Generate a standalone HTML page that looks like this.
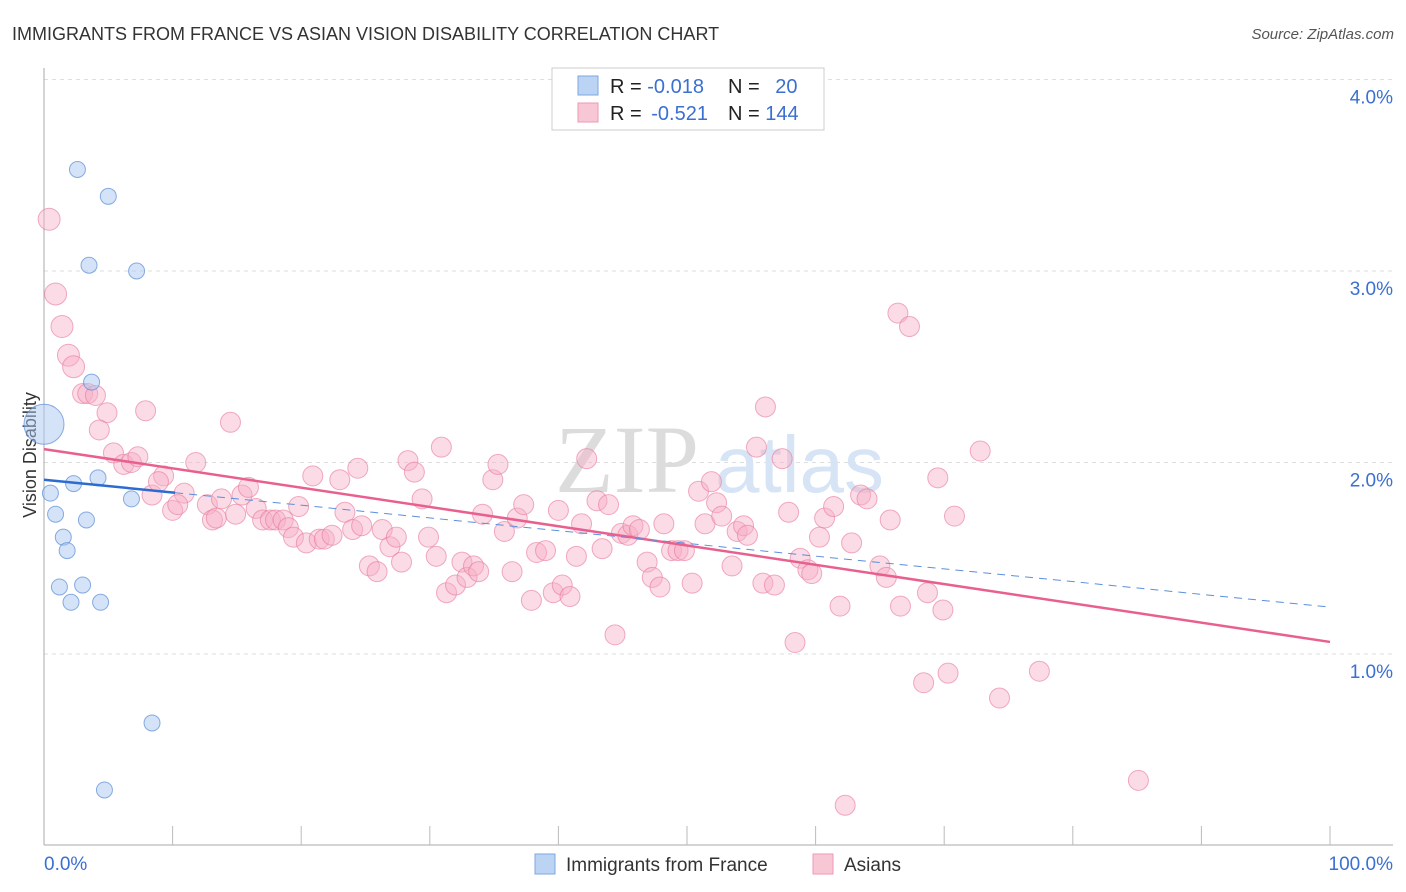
<!DOCTYPE html>
<html><head><meta charset="utf-8">
<style>
body{margin:0;background:#fff;font-family:"Liberation Sans",sans-serif;}
#wrap{position:relative;width:1406px;height:892px;overflow:hidden;}
</style></head>
<body>
<div id="wrap">
<svg id="svg" width="1406" height="892" xmlns="http://www.w3.org/2000/svg">
<text x="12" y="40" font-size="18" fill="#333">IMMIGRANTS FROM FRANCE VS ASIAN VISION DISABILITY CORRELATION CHART</text>
<text x="1394" y="39" font-size="15" fill="#555" text-anchor="end" font-style="italic">Source: ZipAtlas.com</text>
<text x="36" y="455" font-size="18" fill="#333" text-anchor="middle" transform="rotate(-90 36 455)">Vision Disability</text>
<g id="grid"></g>
<text x="555" y="492" font-size="96" fill="#dcdcdc" font-family="Liberation Serif,serif">ZIP</text>
<text x="715" y="492" font-size="80" fill="#d6e4f5">atlas</text>
<g id="axes"></g>
<g id="pink"></g>
<g id="blue"></g>
<g id="lines"></g>
<g>
<rect x="552" y="68" width="272" height="62" fill="#fff" stroke="#ccc"/>
<rect x="578" y="76" width="20" height="19" fill="#bcd4f3" stroke="#7da7e0"/>
<rect x="578" y="103" width="20" height="19" fill="#f8c7d5" stroke="#ee9ab2"/>
<text x="610" y="93" font-size="20" fill="#222">R = <tspan fill="#3b6fd1">-0.018</tspan></text>
<text x="728" y="93" font-size="20" fill="#222">N = <tspan fill="#3b6fd1" dx="10">20</tspan></text>
<text x="610" y="120" font-size="20" fill="#222">R = <tspan fill="#3b6fd1" dx="4">-0.521</tspan></text>
<text x="728" y="120" font-size="20" fill="#222">N = <tspan fill="#3b6fd1">144</tspan></text>
</g>
<g>
<rect x="535" y="854" width="20" height="20" fill="#bcd4f3" stroke="#7da7e0"/>
<text x="566" y="871" font-size="19" fill="#333">Immigrants from France</text>
<rect x="813" y="854" width="20" height="20" fill="#f8c7d5" stroke="#ee9ab2"/>
<text x="844" y="871" font-size="19" fill="#333">Asians</text>
</g>
</svg>
</div>
<script>
const yTicks=[1,2,3,4];
const yTickLabels=["1.0%","2.0%","3.0%","4.0%"];
const xTicks=[0,10,20,30,40,50,60,70,80,90,100];
const blueX=[2.6,5.0,3.5,7.2,3.7,0,4.2,2.3,0.5,6.8,0.9,3.3,1.5,1.8,1.2,3.0,2.1,4.4,8.4,4.7];
const blueY=[3.53,3.39,3.03,3.00,2.42,2.20,1.92,1.89,1.84,1.81,1.73,1.70,1.61,1.54,1.35,1.36,1.27,1.27,0.64,0.29];
const blueR=[8,8,8,8,8,20,8,8,8,8,8,8,8,8,8,8,8,8,8,8];
const pinkX=[0.4,0.9,1.4,1.9,2.3,3.0,3.4,4.0,4.9,7.9,4.3,14.5,5.4,6.2,6.8,7.3,9.3,8.4,8.9,10.9,10.0,10.4,11.8,12.7,13.1,13.4,13.8,14.9,15.4,15.9,16.5,17.0,17.6,18.0,18.6,19.0,19.4,19.8,20.4,20.9,21.4,21.8,22.4,23.0,23.4,24.0,24.4,24.7,25.3,25.9,26.3,26.9,27.4,27.8,28.3,28.8,29.4,29.9,30.5,30.9,31.3,32.0,32.5,32.9,33.4,33.8,34.9,35.3,34.1,36.4,35.8,36.8,37.3,37.9,38.3,39.0,39.6,40.3,40.0,40.9,41.4,41.8,42.2,43.0,43.4,43.9,44.4,44.9,45.4,45.8,46.3,46.9,47.3,47.9,48.2,48.8,49.3,49.8,50.4,50.9,51.4,51.9,52.3,52.7,53.5,53.9,54.4,54.7,55.4,55.9,56.1,56.8,57.4,57.9,58.4,58.8,59.4,59.7,60.3,60.7,61.4,61.9,62.3,62.8,63.5,64.0,65.0,65.5,65.8,66.4,66.6,67.3,68.4,68.7,69.5,69.9,70.3,70.8,72.8,74.3,77.4,85.1];
const pinkY=[3.27,2.88,2.71,2.56,2.50,2.36,2.36,2.35,2.26,2.27,2.17,2.21,2.05,1.99,2.00,2.03,1.93,1.83,1.90,1.84,1.75,1.78,2.00,1.78,1.70,1.71,1.81,1.73,1.83,1.87,1.76,1.70,1.70,1.70,1.70,1.66,1.61,1.77,1.58,1.93,1.60,1.60,1.62,1.91,1.74,1.65,1.97,1.67,1.46,1.43,1.65,1.56,1.61,1.48,2.01,1.95,1.81,1.61,1.51,2.08,1.32,1.36,1.48,1.40,1.46,1.43,1.91,1.99,1.73,1.43,1.64,1.71,1.78,1.28,1.53,1.54,1.32,1.36,1.75,1.30,1.51,1.68,2.02,1.80,1.55,1.78,1.10,1.63,1.62,1.67,1.65,1.48,1.40,1.35,1.68,1.54,1.54,1.54,1.37,1.85,1.68,1.90,1.79,1.72,1.46,1.64,1.67,1.62,2.08,1.37,2.29,1.36,2.02,1.74,1.06,1.50,1.44,1.42,1.61,1.71,1.77,1.25,0.21,1.58,1.83,1.81,1.46,1.40,1.70,2.78,1.25,2.71,0.85,1.32,1.92,1.23,0.90,1.72,2.06,0.77,0.91,0.34];
const pinkTrend=[2.07,1.063];
const blueTrend=[1.91,1.245];
const blueSolidEnd=10.2;

const X0=44,X1=1330,Y0=845.5,PXY=191.5;
function sx(v){return X0+(X1-X0)*v/100;}
function sy(v){return Y0-v*PXY;}
const NS="http://www.w3.org/2000/svg";
function mk(tag,attrs,parent){const e=document.createElementNS(NS,tag);for(const k in attrs)e.setAttribute(k,attrs[k]);parent.appendChild(e);return e;}
const grid=document.getElementById('grid'),axes=document.getElementById('axes');
yTicks.forEach((t,i)=>{
  const l=mk('line',{x1:44,x2:1393,y1:sy(t),y2:sy(t),stroke:'#dedede','stroke-dasharray':'4,4'},grid);
  
  
  const tx=mk('text',{x:1393,y:sy(t)+24,'font-size':19,fill:'#3b6fd1','text-anchor':'end'},axes);
  tx.textContent=yTickLabels[i];
  
  
});
const ya=mk('line',{x1:44,x2:44,y1:68,y2:845,stroke:'#aaa'},axes);


const xa=mk('line',{x1:44,x2:1393,y1:845,y2:845,stroke:'#aaa'},axes);


xTicks.forEach(t=>{if(t===0)return;
  const l=mk('line',{x1:sx(t),x2:sx(t),y1:826,y2:845,stroke:'#bbb'},axes);
  
  
});
const xl0=mk('text',{x:44,y:870,'font-size':19,fill:'#3b6fd1'},axes);xl0.textContent='0.0%';


const xl1=mk('text',{x:1393,y:870,'font-size':19,fill:'#3b6fd1','text-anchor':'end'},axes);xl1.textContent='100.0%';


const pink=document.getElementById('pink');
pinkX.forEach((x,i)=>{
  const c=mk('circle',{cx:sx(x),cy:sy(pinkY[i]),r:i<5?11:10,fill:'rgba(246,175,198,0.45)',stroke:'rgba(232,120,155,0.6)','stroke-width':1},pink);
  
  
});
const blue=document.getElementById('blue');
blueX.forEach((x,i)=>{
  const c=mk('circle',{cx:sx(x),cy:sy(blueY[i]),r:blueR[i],fill:'rgba(170,200,240,0.5)',stroke:'rgba(90,140,215,0.7)','stroke-width':1},blue);
  
  
});
const lines=document.getElementById('lines');
const pl=mk('line',{x1:sx(0),y1:sy(pinkTrend[0]),x2:sx(100),y2:sy(pinkTrend[1]),stroke:'#e8608f','stroke-width':2.5},lines);


const bmid=blueTrend[0]+(blueTrend[1]-blueTrend[0])*blueSolidEnd/100;
const bl=mk('line',{x1:sx(0),y1:sy(blueTrend[0]),x2:sx(blueSolidEnd),y2:sy(bmid),stroke:'#2c6bd0','stroke-width':2.5},lines);


const bd=mk('line',{x1:sx(blueSolidEnd),y1:sy(bmid),x2:sx(100),y2:sy(blueTrend[1]),stroke:'#5b8fdc','stroke-width':1,'stroke-dasharray':'8,6'},lines);


</script>
</body></html>
